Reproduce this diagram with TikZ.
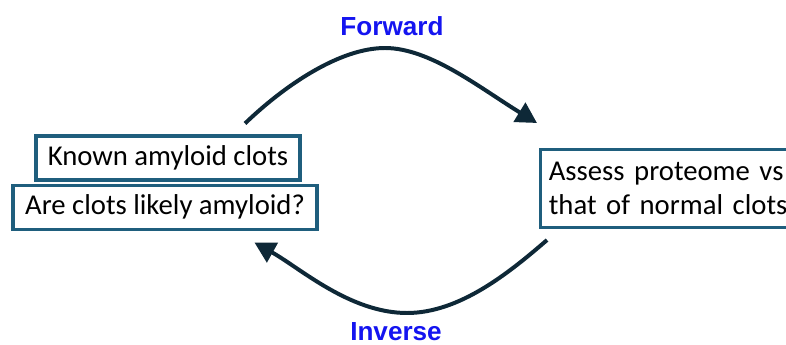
\documentclass[tikz,border=0pt]{standalone}
\usepackage{fontspec}
\setmainfont{Carlito}
\newfontfamily\labelfont{Liberation Sans}
\usetikzlibrary{arrows.meta}
\usetikzlibrary{positioning}
\definecolor{boxblue}{RGB}{31,94,125}
\definecolor{arrowdark}{RGB}{14,40,55}
\definecolor{labelblue}{RGB}{20,20,240}

\begin{document}
\begin{tikzpicture}[x=0.03cm,y=-0.03cm,
    clotbox/.style={draw=boxblue,line width=2.6pt,inner sep=0pt,
      font=\fontsize{24.5}{29}\selectfont},
    curvearrow/.style={draw=arrowdark,line width=3.4pt,
      -{Triangle[length=0.62cm,width=0.66cm]}},
    dirlabel/.style={text=labelblue,inner sep=0pt,font=\labelfont\bfseries\fontsize{22.3}{26}\selectfont}]
  \useasboundingbox (0,0) rectangle (786,345);
  \clip (0,0) rectangle (786,345);
  \node[clotbox,minimum width=7.92cm,minimum height=1.32cm] (known) at (168,158) {Known amyloid clots};
  \node[clotbox,minimum width=9.12cm,minimum height=1.32cm,below=0.06cm of known,xshift=-0.09cm] (likely) {Are clots likely amyloid?};
  \node[clotbox,anchor=north west,minimum width=7.8cm,minimum height=2.34cm,
    align=left,text width=7.5cm,inner xsep=0.25cm] (assess) at (539,148)
    {\raggedright Assess proteome vs\\that of normal clots};
  % arrows between the two sides
  \coordinate (fwdtop) at (385,48);
  \coordinate (invbot) at (407,313);
  \draw[curvearrow] ([shift={(77,-11)}]known.north) .. controls (285,85) and (340,48) .. (fwdtop)
    .. controls (430,48) and (480,88) .. ([shift={(-2,-25)}]assess.north west);
  \draw[curvearrow] ([shift={(8,11)}]assess.south west) .. controls (510,272) and (460,313) .. (invbot)
    .. controls (350,313) and (300,268) .. ([shift={(243,12)}]likely.south west);
  \node[dirlabel] (fwd) at (392,26) {Forward};
  \node[dirlabel] (inv) at (396,332) {Inverse};
\end{tikzpicture}
\end{document}
